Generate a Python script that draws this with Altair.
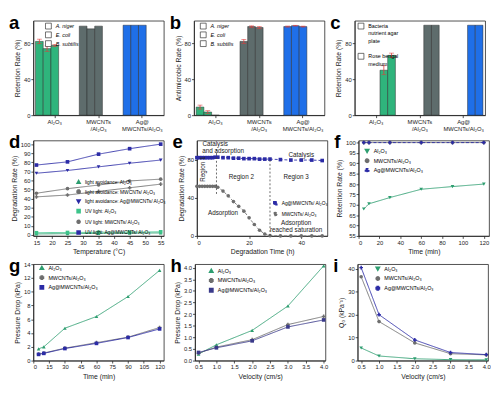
import altair as alt
import pandas as pd

FONT = "Liberation Sans"
GREEN = "#2fb47c"
GRAY = "#5e6c6c"
BLUE = "#1f6fe8"
LGREEN = "#2e9e70"
LGRAY = "#6e6e6e"
LBLUE = "#2b2ba6"
RED = "#e03c3c"

# ---------------- data ----------------
groups = ["Al₂O₃", "MWCNTs|/Al₂O₃", "Ag@|MWCNTs/Al₂O₃"]
microbes = ["A. niger", "E. coli", "B. subtilis"]
a_vals = [[82, 74, 77.5], [99, 96, 99], [100, 100, 100]]
a_err = [[2.5, 3, 1], [0, 0, 0], [0, 0, 0]]
b_vals = [[9, 3.5, 0], [82, 98.5, 97.5], [98.5, 99.5, 98.5]]
b_err = [[2.2, 1.5, 0], [2.2, 0.8, 1], [0.6, 0.4, 0.5]]
media = ["Bacteria|nutrient agar|plate", "Rose bengal|medium"]
c_vals = [[50, 66.5], [100, 100], [100, 100]]
c_err = [[5, 2.5], [0, 0], [0, 0]]

temps = [15, 25, 35, 45, 55]
d_series = ["light avoidance: Al₂O₃", "light avoidance: MWCNTs/ Al₂O₃",
            "light avoidance: Ag@MWCNTs/ Al₂O₃", "UV light: Al₂O₃",
            "UV light: MWCNTs/ Al₂O₃", "UV light: Ag@MWCNTs/ Al₂O₃"]
d_vals = [[1.2, 1.5, 1.8, 2.0, 2.3],
          [42, 44, 48, 52, 56],
          [68, 71, 75, 79, 82.5],
          [2.5, 2.8, 3.0, 3.2, 3.5],
          [46, 51, 55, 59.5, 61.5],
          [77, 80.5, 89, 95, 100]]

e_series = ["Ag@MWCNTs/ Al₂O₃", "MWCNTs/ Al₂O₃"]
e_time = [0, 1, 2, 3, 4, 5, 6, 7, 8, 10, 12, 14, 16, 18, 20, 22, 24, 26, 28, 32, 36, 40, 44, 48]
e_ag = [82, 82, 82, 82, 82, 82, 82, 82.5, 82.5, 82, 82, 81.5, 81.5, 81, 81, 81, 80.5, 80.5, 80.5, 80, 79.5, 79.5, 79.5, 79]
e_mw = [52, 52, 52, 52, 52, 52, 52, 52, 51, 47, 42, 36, 31, 26, 19, 12, 6, 2, 0.3, 0, 0, 0, 0, 0]
e_vline_x = [7.5, 28]
e_vline_lo = [44, 0]
e_vline_hi = [92, 82]
e_notes = ["Catalysis", "and adsorption", "Catalysis", "Region 2", "Region 3",
           "Adsorption", "Adsorption", "reached saturation"]
e_note_x = [7, 10, 40, 17, 38, 10, 38, 38]
e_note_y = [96, 89, 85, 62, 62, 24, 14, 6]

line3 = ["Al₂O₃", "MWCNTs/Al₂O₃", "Ag@MWCNTs/Al₂O₃"]
f_time = [5, 10, 30, 60, 90, 120]
f_vals = [[68, 70.5, 73.5, 77.5, 78.8, 80],
          [100, 100, 100, 100, 100, 100],
          [100, 100, 100, 100, 100, 100]]
g_vals = [[1.7, 2.0, 4.7, 6.4, 9.3, 13.1],
          [0.95, 1.1, 1.8, 2.6, 3.4, 4.8],
          [0.9, 1.05, 1.75, 2.5, 3.35, 4.6]]
vel = [0.5, 1, 2, 3, 4]
h_vals = [[0.28, 0.68, 1.3, 2.35, 4.08],
          [0.32, 0.58, 0.9, 1.55, 1.9],
          [0.35, 0.55, 0.85, 1.45, 1.75]]
i_vals = [[5.5, 2.0, 0.8, 0.4, 0.3],
          [36.5, 17, 7.7, 3.0, 2.5],
          [40.5, 20, 9.0, 3.5, 2.6]]

W = 134
H1, H2, H3 = 97, 98, 99


def letter(t):
    return alt.Chart(pd.DataFrame({"t": [t]})).mark_text(
        fontSize=19, fontWeight="bold", font=FONT, align="left", baseline="top"
    ).encode(text="t:N", x=alt.value(-25), y=alt.value(-7))


def leg(x, y, **kw):
    base = dict(orient="none", legendX=x, legendY=y, title=None, labelFontSize=5.5,
                labelFont=FONT, symbolSize=14, rowPadding=0, padding=0,
                labelLimit=200)
    base.update(kw)
    return alt.Legend(**base)


def bar_panel(vals, errs, series, t, ytitle, ystep, lx, ly, H, italic=False, rowpad=0):
    rows = []
    for gi, g in enumerate(groups):
        for si, s in enumerate(series):
            v = vals[gi][si]
            e = errs[gi][si]
            rows.append(dict(group=g, series=s, v=v, lo=v - e, hi=v + e, e=e))
    df = pd.DataFrame(rows)
    x = alt.X("group:N", sort=groups, title=None,
              axis=alt.Axis(labelAngle=0, labelExpr="split(datum.label,'|')",
                            labelFontSize=6, labelLineHeight=7),
              scale=alt.Scale(paddingInner=0.12, paddingOuter=0.05))
    xo = alt.XOffset("series:N", sort=series, scale=alt.Scale(domain=series))
    y = alt.Y("v:Q", title=ytitle, scale=alt.Scale(domain=[0, 105], nice=False),
              axis=alt.Axis(values=list(range(0, 101, ystep))))
    lg = leg(lx, ly, symbolType="square", symbolFillColor="white",
             symbolStrokeColor="#333", symbolStrokeWidth=0.7, symbolSize=36,
             labelFontStyle="italic" if italic else "normal", rowPadding=rowpad,
             labelExpr="split(datum.label,'|')")
    bars = alt.Chart(df).mark_bar(stroke="#2a2a2a", strokeWidth=0.5).encode(
        x=x, xOffset=xo, y=y,
        color=alt.Color("group:N", sort=groups,
                        scale=alt.Scale(domain=groups, range=[GREEN, GRAY, BLUE]),
                        legend=None),
        opacity=alt.Opacity("series:N", sort=series,
                            scale=alt.Scale(domain=series, range=[1] * len(series)),
                            legend=lg))
    ed = df[df.e > 0]
    rule = alt.Chart(ed).mark_rule(color=RED, strokeWidth=0.8).encode(
        x=x, xOffset=xo, y=alt.Y("lo:Q"), y2="hi:Q")
    caps = alt.Chart(ed).transform_fold(["lo", "hi"], as_=["k", "cap"]).mark_tick(
        color=RED, thickness=0.8, size=5).encode(x=x, xOffset=xo, y=alt.Y("cap:Q"))
    return alt.layer(bars, rule, caps, letter(t)).properties(width=W, height=H)


def line_df(xs, series, vals, sf):
    rows = []
    for s, vv in zip(series, vals):
        for xv, yv in zip(xs, vv):
            rows.append({"x": xv, "y": yv, sf: s})
    return pd.DataFrame(rows)


def line_panel(df, sf, series, colors, shapes, dashes, xdom, xvals, xtitle,
               ydom, yvals, ytitle, lg, t, H, xfmt=None, yfmt=None):
    xa = dict(values=xvals)
    if xfmt:
        xa["format"] = xfmt
    ya = dict(values=yvals)
    if yfmt:
        ya["format"] = yfmt
    ch = alt.Chart(df).mark_line(
        strokeWidth=0.9,
        point=alt.OverlayMarkDef(filled=True, size=14)
    ).encode(
        x=alt.X("x:Q", title=xtitle, scale=alt.Scale(domain=xdom, nice=False), axis=alt.Axis(**xa)),
        y=alt.Y("y:Q", title=ytitle, scale=alt.Scale(domain=ydom, nice=False), axis=alt.Axis(**ya)),
        color=alt.Color(f"{sf}:N", sort=series, scale=alt.Scale(domain=series, range=colors), legend=lg),
        shape=alt.Shape(f"{sf}:N", sort=series, scale=alt.Scale(domain=series, range=shapes), legend=lg),
        strokeDash=alt.StrokeDash(f"{sf}:N", sort=series, scale=alt.Scale(domain=series, range=dashes), legend=None),
    )
    return ch


# ---------------- row 1 ----------------
pa = bar_panel(a_vals, a_err, microbes, "a", "Retention Rate (%)", 20, 12, 2, H1, italic=True)
pb = bar_panel(b_vals, b_err, microbes, "b", "Antimicrobic Rate (%)", 10, 6, 2, H1, italic=True)
pc = bar_panel(c_vals, c_err, media, "c", "Retention Rate (%)", 20, 3, 2, H1, rowpad=8)

# ---------------- row 2 ----------------
ddf = line_df(temps, d_series, d_vals, "sd")
pd_ = alt.layer(line_panel(
    ddf, "sd", d_series,
    [LGREEN, LGRAY, LBLUE, "#3cc48a", LGRAY, LBLUE],
    ["triangle-up", "cross", "triangle-down", "square", "circle", "square"],
    [[1, 0]] * 6,
    [14, 56], [15, 20, 25, 30, 35, 40, 45, 50, 55], "Temperature (°C)",
    [-1, 104], list(range(0, 101, 10)), "Degradation Rate (%)",
    leg(44, 40, symbolSize=10, labelFontSize=5), "d", H2), letter("d")).properties(width=W, height=H2)

edf = line_df(e_time, e_series, [e_ag, e_mw], "se")
e_lines = line_panel(
    edf, "se", e_series, [LBLUE, LGRAY], ["square", "circle"], [[3, 2], [3, 2]],
    [0, 50], list(range(0, 51, 5)), "Degradation Time (h)",
    [0, 100], list(range(0, 101, 10)), "Degradation Rate (%)",
    leg(78, 62, symbolSize=10, labelFontSize=5), "e", H2)
vdf = pd.DataFrame({"x": e_vline_x, "lo": e_vline_lo, "hi": e_vline_hi})
e_v = alt.Chart(vdf).mark_rule(color="#444", strokeDash=[2, 2], strokeWidth=0.8).encode(
    x="x:Q", y="lo:Q", y2="hi:Q")
ndf = pd.DataFrame({"x": e_note_x, "y": e_note_y, "t": e_notes})
e_n = alt.Chart(ndf).mark_text(fontSize=6.5, font=FONT, color="#222").encode(
    x="x:Q", y="y:Q", text="t:N")
r1 = alt.Chart(pd.DataFrame({"x": [2.5], "y": [70], "t": ["Region 1"]})).mark_text(
    fontSize=6.5, font=FONT, angle=270, color="#222").encode(x="x:Q", y="y:Q", text="t:N")
pe = alt.layer(e_lines, e_v, e_n, r1, letter("e")).properties(width=W, height=H2)

fdf = line_df(f_time, line3, f_vals, "sf")
pf = alt.layer(line_panel(
    fdf, "sf", line3, [LGREEN, LGRAY, LBLUE], ["triangle-down", "circle", "cross"],
    [[1, 0], [1, 0], [3, 2]],
    [0, 125], list(range(0, 121, 20)), "Time (min)",
    [55, 101], list(range(55, 101, 5)), "Retention Rate (%)",
    leg(6, 8, symbolSize=12), "f", H2), letter("f")).properties(width=W, height=H2)

# ---------------- row 3 ----------------
gdf = line_df(f_time, line3, g_vals, "sg")
pg = alt.layer(line_panel(
    gdf, "sg", line3, [LGREEN, LGRAY, LBLUE], ["triangle-up", "cross", "square"],
    [[1, 0]] * 3,
    [0, 124], list(range(0, 121, 15)), "Time (min)",
    [0, 14], list(range(0, 15, 2)), "Pressure Drop (kPa)",
    leg(6, 1, symbolSize=12), "g", H3), letter("g")).properties(width=W, height=H3)

hdf = line_df(vel, line3, h_vals, "sh")
ph = alt.layer(line_panel(
    hdf, "sh", line3, [LGREEN, LGRAY, "#3a3a8a"], ["triangle-up", "cross", "square"],
    [[1, 0]] * 3,
    [0.4, 4.05], [0.5, 1.0, 1.5, 2.0, 2.5, 3.0, 3.5, 4.0], "Velocity (cm/s)",
    [0, 4.15], [0, 0.5, 1.0, 1.5, 2.0, 2.5, 3.0, 3.5, 4.0], "Pressure Drop (kPa)",
    leg(14, 4, symbolSize=12), "h", H3, xfmt=".1f", yfmt=".1f"), letter("h")).properties(width=W, height=H3)

idf = line_df(vel, line3, i_vals, "si")
pi = alt.layer(line_panel(
    idf, "si", line3, [LGREEN, LGRAY, LBLUE], ["triangle-down", "circle", "cross"],
    [[1, 0]] * 3,
    [0.4, 4.05], [0.5, 1.0, 1.5, 2.0, 2.5, 3.0, 3.5, 4.0], "Velocity (cm/s)",
    [0, 42], [0, 10, 20, 30, 40], "Q₀ (kPa⁻¹)",
    leg(18, 2, symbolSize=12), "i", H3, xfmt=".1f"), letter("i")).properties(width=W, height=H3)

IND = dict(color="independent", shape="independent", opacity="independent",
           strokeDash="independent")


def row(*ps):
    return alt.hconcat(*ps, spacing=4).resolve_scale(**IND).resolve_legend(
        color="independent", shape="independent", opacity="independent")


chart = alt.vconcat(row(pa, pb, pc), row(pd_, pe, pf), row(pg, ph, pi), spacing=1
                    ).resolve_scale(**IND).resolve_legend(
    color="independent", shape="independent", opacity="independent"
).properties(padding={"left": 0, "top": 0, "right": 0, "bottom": 0}
).configure_view(stroke="#222", strokeWidth=0.8
).configure_axis(grid=False, labelFont=FONT, titleFont=FONT, labelFontSize=6,
                 titleFontSize=7, titleFontWeight="normal", labelColor="#222",
                 titleColor="#222", domainColor="#222", tickColor="#222",
                 tickSize=2.5, labelPadding=1, titlePadding=3, domainWidth=0.8,
                 tickWidth=0.8
).configure_legend(labelFont=FONT)

chart.save("out.html", embed_options={"renderer": "svg", "actions": False})
